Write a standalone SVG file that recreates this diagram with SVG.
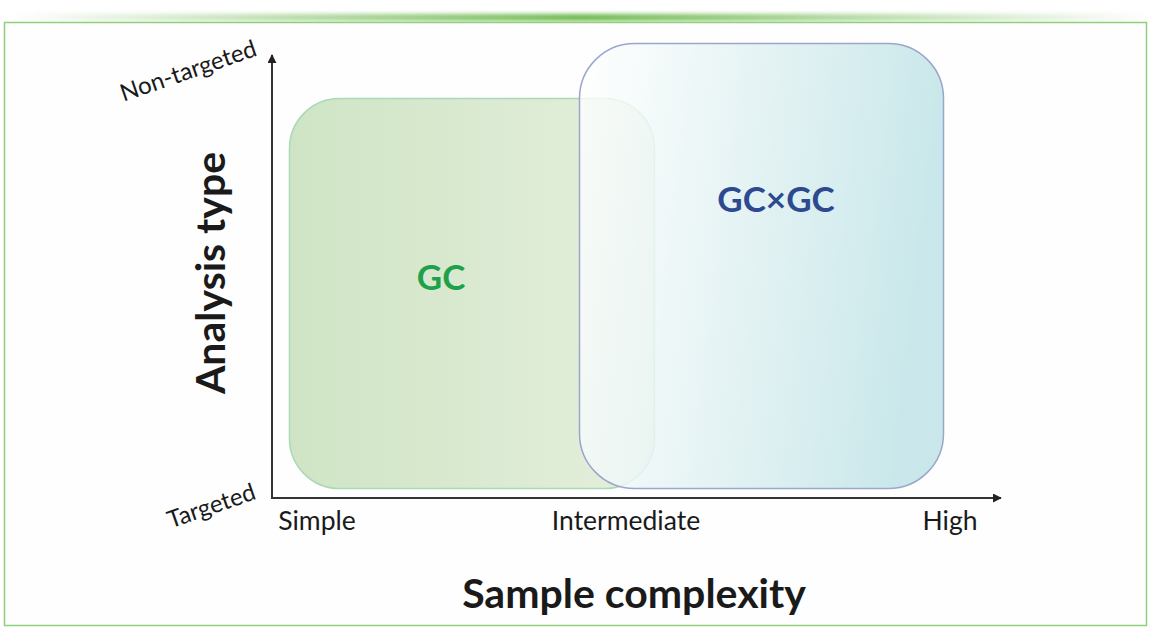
<svg xmlns="http://www.w3.org/2000/svg" width="1162" height="640" viewBox="0 0 1162 640">
<style>
.lbl{font-family:Lato,"Liberation Sans",sans-serif;fill:#1a1a1a}
.tick{font-size:26.5px}
.axt{font-size:41px;font-weight:bold}
.box{font-family:Lato,"Liberation Sans",sans-serif;font-weight:bold;font-size:35px}
.ax{stroke:#333;stroke-width:2;fill:none}
</style>
<defs>
<linearGradient id="topline" x1="0" y1="0" x2="1" y2="0">
<stop offset="0" stop-color="#6ab84a" stop-opacity="0"/>
<stop offset="0.5" stop-color="#6ab84a" stop-opacity="1"/>
<stop offset="1" stop-color="#6ab84a" stop-opacity="0"/>
</linearGradient>
<filter id="blur" x="-0.1" y="-2" width="1.2" height="5"><feGaussianBlur stdDeviation="2"/></filter>
<linearGradient id="gcg" x1="0" y1="0" x2="1" y2="0">
<stop offset="0" stop-color="#cfe4c5"/>
<stop offset="1" stop-color="#e5efdc"/>
</linearGradient>
<linearGradient id="gcxg" x1="0" y1="0" x2="1" y2="0.15">
<stop offset="0" stop-color="#ffffff" stop-opacity="0.8"/>
<stop offset="0.45" stop-color="#e3f2f3" stop-opacity="0.85"/>
<stop offset="1" stop-color="#c6e6e9" stop-opacity="0.95"/>
</linearGradient>
<marker id="arr" viewBox="0 0 10 10" refX="9" refY="5" markerWidth="4.5" markerHeight="4.5" orient="auto" markerUnits="strokeWidth">
<path d="M0,0 L10,5 L0,10 z" fill="#222"/>
</marker>
</defs>
<rect width="1162" height="640" fill="#fff"/>
<rect x="10" y="14" width="1142" height="7" fill="url(#topline)" filter="url(#blur)"/>
<rect x="4.5" y="22.5" width="1142" height="603" fill="#fefefe" stroke="#8fd07a" stroke-width="1.5"/>

<g id="gc">
<rect x="289.5" y="98.5" width="365" height="390" rx="50" fill="url(#gcg)" stroke="#a9d9b6" stroke-width="1.5"/>
<text class="box" x="441" y="290" text-anchor="middle" fill="#1fa04a">GC</text>
</g>
<g id="gcxgc">
<rect x="579.5" y="43.5" width="364" height="445" rx="55" fill="url(#gcxg)" stroke="#9ba6cb" stroke-width="1.5"/>
<text class="box" x="776" y="212" text-anchor="middle" fill="#2d4a90">GC×GC</text>
</g>

<g id="connectors">
<line class="ax" x1="272" y1="499" x2="272" y2="55" marker-end="url(#arr)"/>
<line class="ax" x1="271" y1="498" x2="1001" y2="498" marker-end="url(#arr)"/>
</g>

<g id="labels">
<text class="lbl tick" x="188" y="79" text-anchor="middle" font-size="24" transform="rotate(-19 188 70)" style="font-size:24px">Non-targeted</text>
<text class="lbl tick" x="211" y="514" text-anchor="middle" transform="rotate(-19 211 505)" style="font-size:24px">Targeted</text>
<text class="lbl tick" x="317" y="530" text-anchor="middle">Simple</text>
<text class="lbl tick" x="626" y="530" text-anchor="middle">Intermediate</text>
<text class="lbl tick" x="950" y="530" text-anchor="middle">High</text>
<text class="lbl axt" x="634" y="608" text-anchor="middle">Sample complexity</text>
<text class="lbl axt" x="0" y="0" text-anchor="middle" transform="translate(225 273) rotate(-90)">Analysis type</text>
</g>
</svg>
